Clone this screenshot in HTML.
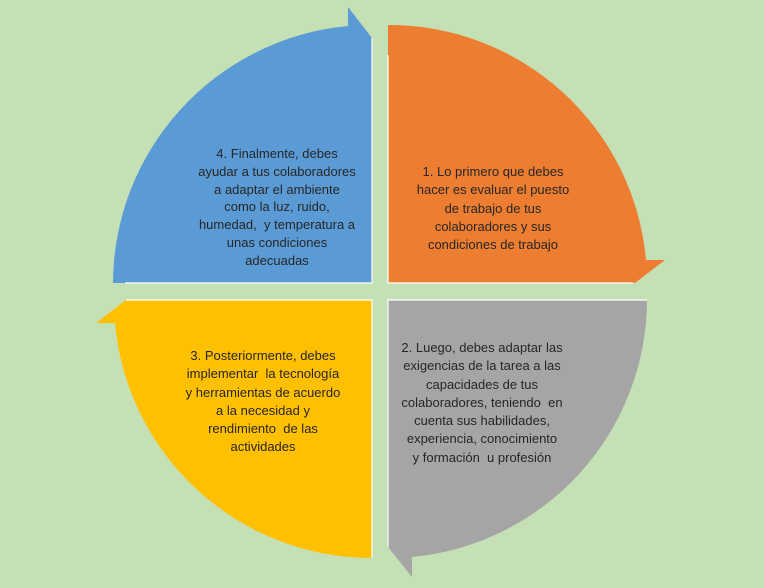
<!DOCTYPE html>
<html><head><meta charset="utf-8"><style>
html,body{margin:0;padding:0;}
body{width:764px;height:588px;background:#C5E0B4;position:relative;overflow:hidden;font-family:"Liberation Sans",sans-serif;}
svg{position:absolute;left:0;top:0;}
.t{position:absolute;font-size:13px;color:#262626;text-align:center;line-height:18.3px;white-space:nowrap;}
</style></head><body>
<svg width="764" height="588">
<path d="M388,25 A258,258 0 0 1 646,260 L665,260 L635,283 L388,283 Z" fill="#ED7D31"/>
<path d="M113,283 A259,259 0 0 1 348,26 L348,7 L372,38 L372,283 Z" fill="#5B9BD5"/>
<path d="M388,300 L647,300 A259,259 0 0 1 412,557 L412,577 L388,547 Z" fill="#A5A5A5"/>
<path d="M372,300 L372,558 A258,258 0 0 1 115,323 L96,323 L126,300 Z" fill="#FFC000"/>
<g stroke="#fff" stroke-width="1.2" fill="none">
<path d="M388,55 L388,283 L633,283"/>
<path d="M372,38 L372,283 L125,283"/>
<path d="M388,547 L388,300 L647,300"/>
<path d="M372,558 L372,300 L126,300"/>
</g>
</svg>
<div class="t" style="left:393px;width:200px;top:163px;">1. Lo primero que debes<br>hacer es evaluar el puesto<br>de trabajo de tus<br>colaboradores y sus<br>condiciones de trabajo</div>
<div class="t" style="left:177px;width:200px;top:145px;line-height:17.8px;">4. Finalmente, debes<br>ayudar a tus colaboradores<br>a adaptar el ambiente<br>como la luz, ruido,<br>humedad,&nbsp; y temperatura a<br>unas condiciones<br>adecuadas</div>
<div class="t" style="left:153px;width:220px;top:347px;">3. Posteriormente, debes<br>implementar&nbsp; la tecnología<br>y herramientas de acuerdo<br>a la necesidad y<br>rendimiento&nbsp; de las<br>actividades</div>
<div style="position:absolute;left:395px;top:339px;width:183px;height:130px;overflow:hidden;">
<div class="t" style="left:-13px;width:200px;top:0;">2. Luego, debes adaptar las<br>exigencias de la tarea a las<br>capacidades de tus<br>colaboradores, teniendo&nbsp; en<br>cuenta sus habilidades,<br>experiencia, conocimiento<br>y formación&nbsp; u profesión</div>
</div>
</body></html>
